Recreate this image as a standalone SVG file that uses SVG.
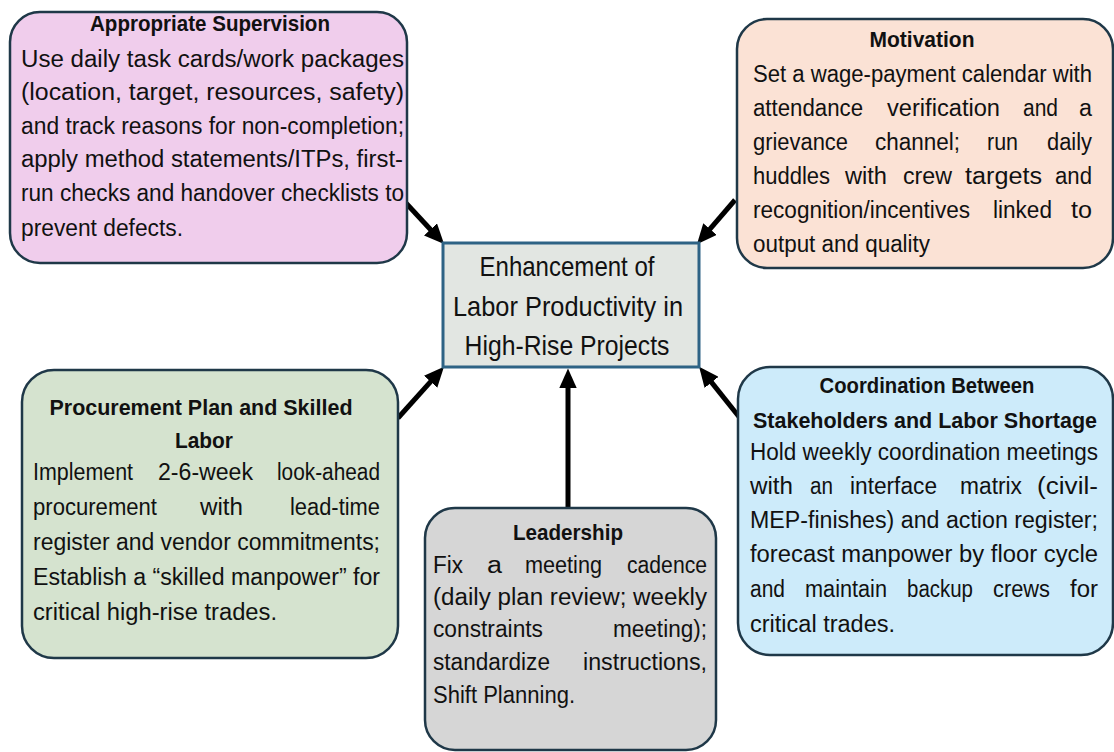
<svg xmlns="http://www.w3.org/2000/svg" width="1114" height="752" viewBox="0 0 1114 752">
<style>
.box{stroke:#1f3848;stroke-width:2.5}
.t{font-family:"Liberation Sans",Arial,sans-serif;font-size:22px;font-weight:bold;fill:#111;text-anchor:middle}
.b{font-family:"Liberation Sans",Arial,sans-serif;font-size:23px;fill:#111}
.c{font-family:"Liberation Sans",Arial,sans-serif;font-size:28px;fill:#111;text-anchor:middle}
.conn{stroke:#000;stroke-width:5;fill:none;marker-end:url(#ah)}
</style>
<defs>
<marker id="ah" markerUnits="userSpaceOnUse" markerWidth="20" markerHeight="18" viewBox="0 0 18 16" refX="4" refY="8" orient="auto">
<path d="M0,0 L18,8 L0,16 z" fill="#000"/>
</marker>
</defs>

<g id="connectors">
<line class="conn" x1="405" y1="202" x2="433.5" y2="232.7"/>
<line class="conn" x1="735" y1="200" x2="707.1" y2="232.4"/>
<line class="conn" x1="398" y1="418" x2="433.6" y2="378.4"/>
<line class="conn" x1="740" y1="418" x2="708.8" y2="378.9"/>
<line class="conn" x1="568" y1="507" x2="568" y2="384"/>
</g>

<g id="supervision">
<rect class="box" x="10" y="12" width="397" height="251" rx="30" fill="#f0cdec"/>
<text class="t" x="210" y="31" textLength="240" lengthAdjust="spacingAndGlyphs">Appropriate Supervision</text>
<text class="b" x="21" y="67" textLength="383" lengthAdjust="spacingAndGlyphs">Use daily task cards/work packages</text>
<text class="b" x="21" y="100" textLength="383" lengthAdjust="spacingAndGlyphs">(location, target, resources, safety)</text>
<text class="b" x="21" y="134" textLength="383" lengthAdjust="spacingAndGlyphs">and track reasons for non-completion;</text>
<text class="b" x="21" y="167" textLength="382" lengthAdjust="spacingAndGlyphs">apply method statements/ITPs, first-</text>
<text class="b" x="21" y="201" textLength="383" lengthAdjust="spacingAndGlyphs">run checks and handover checklists to</text>
<text class="b" x="21" y="236" textLength="162" lengthAdjust="spacingAndGlyphs">prevent defects.</text>
</g>

<g id="motivation">
<rect class="box" x="737" y="19" width="376" height="249" rx="30" fill="#fbe2d5"/>
<text class="t" x="922" y="47" textLength="105" lengthAdjust="spacingAndGlyphs">Motivation</text>
<text class="b" x="753" y="82" textLength="339" lengthAdjust="spacingAndGlyphs">Set a wage-payment calendar with</text>
<text class="b" x="753" y="116" textLength="110" lengthAdjust="spacingAndGlyphs">attendance</text>
<text class="b" x="887" y="116" textLength="113" lengthAdjust="spacingAndGlyphs">verification</text>
<text class="b" x="1023" y="116" textLength="35" lengthAdjust="spacingAndGlyphs">and</text>
<text class="b" x="1079" y="116" textLength="13" lengthAdjust="spacingAndGlyphs">a</text>
<text class="b" x="753" y="150" textLength="95" lengthAdjust="spacingAndGlyphs">grievance</text>
<text class="b" x="875" y="150" textLength="85" lengthAdjust="spacingAndGlyphs">channel;</text>
<text class="b" x="987" y="150" textLength="31" lengthAdjust="spacingAndGlyphs">run</text>
<text class="b" x="1047" y="150" textLength="45" lengthAdjust="spacingAndGlyphs">daily</text>
<text class="b" x="753" y="184" textLength="77" lengthAdjust="spacingAndGlyphs">huddles</text>
<text class="b" x="845" y="184" textLength="42" lengthAdjust="spacingAndGlyphs">with</text>
<text class="b" x="903" y="184" textLength="49" lengthAdjust="spacingAndGlyphs">crew</text>
<text class="b" x="965" y="184" textLength="77" lengthAdjust="spacingAndGlyphs">targets</text>
<text class="b" x="1055" y="184" textLength="37" lengthAdjust="spacingAndGlyphs">and</text>
<text class="b" x="753" y="218" textLength="217" lengthAdjust="spacingAndGlyphs">recognition/incentives</text>
<text class="b" x="993" y="218" textLength="59" lengthAdjust="spacingAndGlyphs">linked</text>
<text class="b" x="1071" y="218" textLength="21" lengthAdjust="spacingAndGlyphs">to</text>
<text class="b" x="753" y="252" textLength="177" lengthAdjust="spacingAndGlyphs">output and quality</text>
</g>

<g id="center">
<rect x="443" y="243" width="256" height="124" fill="#e2e6e2" stroke="#2e6385" stroke-width="3"/>
<text class="c" x="567" y="276" textLength="175" lengthAdjust="spacingAndGlyphs">Enhancement of</text>
<text class="c" x="568" y="316" textLength="230" lengthAdjust="spacingAndGlyphs">Labor Productivity in</text>
<text class="c" x="567" y="355" textLength="205" lengthAdjust="spacingAndGlyphs">High-Rise Projects</text>
</g>

<g id="procurement">
<rect class="box" x="22" y="370" width="376" height="288" rx="32" fill="#d5e3cf"/>
<text class="t" x="201" y="415" textLength="303" lengthAdjust="spacingAndGlyphs">Procurement Plan and Skilled</text>
<text class="t" x="204" y="448" textLength="58" lengthAdjust="spacingAndGlyphs">Labor</text>
<text class="b" x="33" y="480" textLength="100" lengthAdjust="spacingAndGlyphs">Implement</text>
<text class="b" x="158" y="480" textLength="95" lengthAdjust="spacingAndGlyphs">2-6-week</text>
<text class="b" x="277" y="480" textLength="103" lengthAdjust="spacingAndGlyphs">look-ahead</text>
<text class="b" x="33" y="515" textLength="124" lengthAdjust="spacingAndGlyphs">procurement</text>
<text class="b" x="200" y="515" textLength="43" lengthAdjust="spacingAndGlyphs">with</text>
<text class="b" x="290" y="515" textLength="90" lengthAdjust="spacingAndGlyphs">lead-time</text>
<text class="b" x="33" y="550" textLength="347" lengthAdjust="spacingAndGlyphs">register and vendor commitments;</text>
<text class="b" x="33" y="585" textLength="347" lengthAdjust="spacingAndGlyphs">Establish a “skilled manpower” for</text>
<text class="b" x="33" y="620" textLength="244" lengthAdjust="spacingAndGlyphs">critical high-rise trades.</text>
</g>

<g id="coordination">
<rect class="box" x="738" y="367" width="375" height="288" rx="32" fill="#cdebfa"/>
<text class="t" x="927" y="393" textLength="215" lengthAdjust="spacingAndGlyphs">Coordination Between</text>
<text class="t" x="925" y="428" textLength="344" lengthAdjust="spacingAndGlyphs">Stakeholders and Labor Shortage</text>
<text class="b" x="750" y="460" textLength="348" lengthAdjust="spacingAndGlyphs">Hold weekly coordination meetings</text>
<text class="b" x="750" y="494" textLength="43" lengthAdjust="spacingAndGlyphs">with</text>
<text class="b" x="810" y="494" textLength="23" lengthAdjust="spacingAndGlyphs">an</text>
<text class="b" x="850" y="494" textLength="87" lengthAdjust="spacingAndGlyphs">interface</text>
<text class="b" x="960" y="494" textLength="62" lengthAdjust="spacingAndGlyphs">matrix</text>
<text class="b" x="1037" y="494" textLength="61" lengthAdjust="spacingAndGlyphs">(civil-</text>
<text class="b" x="750" y="528" textLength="348" lengthAdjust="spacingAndGlyphs">MEP-finishes) and action register;</text>
<text class="b" x="750" y="562" textLength="348" lengthAdjust="spacingAndGlyphs">forecast manpower by floor cycle</text>
<text class="b" x="750" y="597" textLength="35" lengthAdjust="spacingAndGlyphs">and</text>
<text class="b" x="805" y="597" textLength="82" lengthAdjust="spacingAndGlyphs">maintain</text>
<text class="b" x="907" y="597" textLength="66" lengthAdjust="spacingAndGlyphs">backup</text>
<text class="b" x="993" y="597" textLength="57" lengthAdjust="spacingAndGlyphs">crews</text>
<text class="b" x="1070" y="597" textLength="28" lengthAdjust="spacingAndGlyphs">for</text>
<text class="b" x="750" y="632" textLength="145" lengthAdjust="spacingAndGlyphs">critical trades.</text>
</g>

<g id="leadership">
<rect class="box" x="425" y="508" width="291" height="242" rx="30" fill="#d6d6d6"/>
<text class="t" x="568" y="540" textLength="110" lengthAdjust="spacingAndGlyphs">Leadership</text>
<text class="b" x="433" y="573" textLength="30" lengthAdjust="spacingAndGlyphs">Fix</text>
<text class="b" x="487" y="573" textLength="15" lengthAdjust="spacingAndGlyphs">a</text>
<text class="b" x="525" y="573" textLength="77" lengthAdjust="spacingAndGlyphs">meeting</text>
<text class="b" x="627" y="573" textLength="80" lengthAdjust="spacingAndGlyphs">cadence</text>
<text class="b" x="433" y="605" textLength="274" lengthAdjust="spacingAndGlyphs">(daily plan review; weekly</text>
<text class="b" x="433" y="637" textLength="110" lengthAdjust="spacingAndGlyphs">constraints</text>
<text class="b" x="613" y="637" textLength="94" lengthAdjust="spacingAndGlyphs">meeting);</text>
<text class="b" x="433" y="670" textLength="117" lengthAdjust="spacingAndGlyphs">standardize</text>
<text class="b" x="583" y="670" textLength="124" lengthAdjust="spacingAndGlyphs">instructions,</text>
<text class="b" x="433" y="703" textLength="142" lengthAdjust="spacingAndGlyphs">Shift Planning.</text>
</g>
</svg>
